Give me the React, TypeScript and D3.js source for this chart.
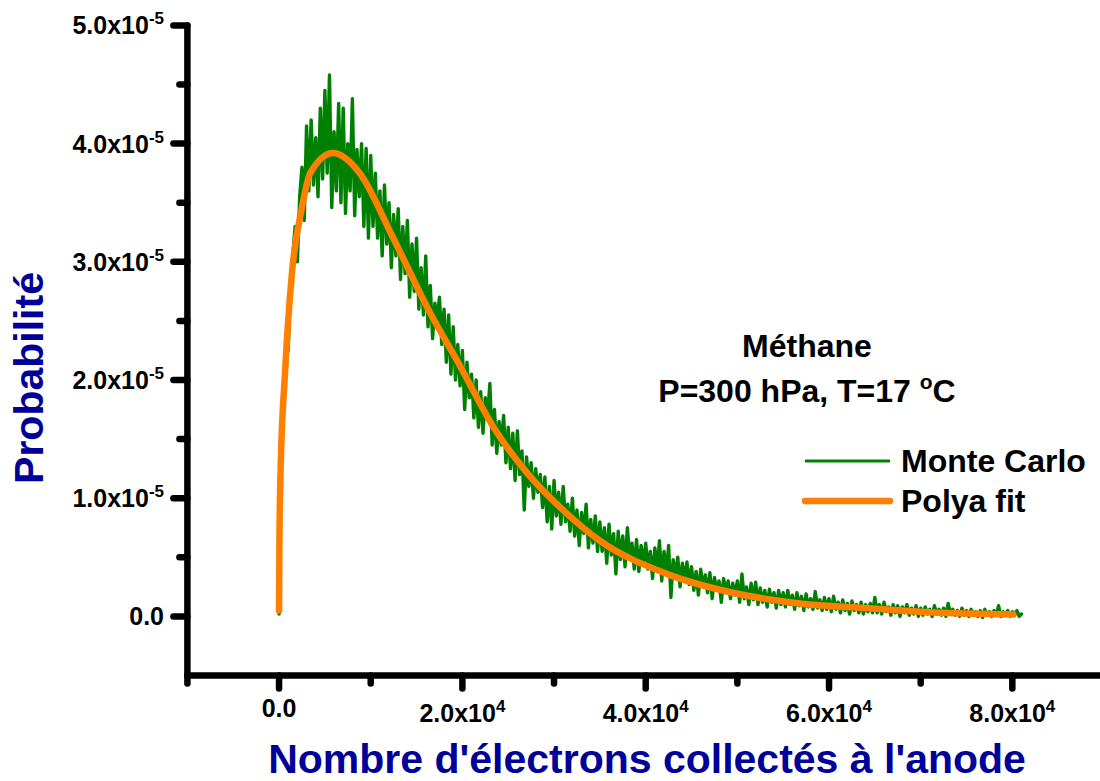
import React from 'react';
import * as d3 from 'd3';

// Monte Carlo histogram, one value every BIN_WIDTH electrons starting at 0 (units of 1e-5)
const BIN_WIDTH = 250;
const monteCarloProb = [
  0.02, 1.3, 1.95, 2.3, 2.25, 2.8, 3.05, 3.3, 3.0, 3.55, 3.8, 3.35, 4.15, 3.6, 4.2, 3.65, 4.05, 3.55, 4.3, 3.7,
  4.45, 3.75, 4.58, 3.46, 4.1, 3.6, 4.34, 3.5, 4.3, 3.41, 4.0, 3.6, 4.38, 3.39, 3.95, 3.55, 4.0, 3.3, 3.96, 3.2,
  3.9, 3.3, 3.75, 3.2, 3.6, 3.05, 3.65, 3.15, 3.5, 2.95, 3.4, 3.05, 3.45, 2.85, 3.3, 2.9, 3.35, 2.7, 3.15, 2.75,
  3.2, 2.6, 2.95, 2.55, 3.05, 2.45, 2.8, 2.35, 2.65, 2.5, 2.7, 2.3, 2.6, 2.15, 2.55, 2.05, 2.45, 2.0, 2.3, 1.95,
  2.25, 1.75, 2.15, 1.85, 2.05, 1.68, 2.0, 1.6, 1.9, 1.55, 1.85, 1.7, 1.97, 1.45, 1.75, 1.38, 1.65, 1.45, 1.7, 1.3,
  1.6, 1.25, 1.55, 1.15, 1.57, 1.2, 1.4, 0.9, 1.35, 1.1, 1.3, 1.0, 1.25, 1.05, 1.2, 0.92, 1.18, 0.8, 1.1, 0.74,
  1.15, 0.85, 1.05, 0.78, 1.1, 0.8, 0.95, 0.72, 1.0, 0.68, 0.9, 0.6, 0.88, 0.7, 0.95, 0.58, 0.82, 0.62, 0.85, 0.55,
  0.8, 0.55, 0.75, 0.45, 0.78, 0.52, 0.7, 0.36, 0.72, 0.48, 0.68, 0.42, 0.75, 0.5, 0.62, 0.4, 0.65, 0.38, 0.6, 0.44,
  0.62, 0.4, 0.55, 0.32, 0.58, 0.38, 0.64, 0.3, 0.55, 0.36, 0.6, 0.16, 0.48, 0.34, 0.5, 0.25, 0.45, 0.3, 0.46, 0.27,
  0.42, 0.22, 0.38, 0.18, 0.4, 0.25, 0.35, 0.2, 0.37, 0.15, 0.33, 0.22, 0.3, 0.12, 0.32, 0.2, 0.3, 0.15, 0.28, 0.18,
  0.3, 0.12, 0.36, 0.15, 0.25, 0.1, 0.28, 0.14, 0.29, 0.1, 0.24, 0.12, 0.22, 0.08, 0.23, 0.12, 0.2, 0.07, 0.22, 0.1,
  0.2, 0.08, 0.22, 0.1, 0.18, 0.06, 0.2, 0.09, 0.17, 0.05, 0.19, 0.08, 0.15, 0.06, 0.21, 0.07, 0.14, 0.05, 0.16, 0.06,
  0.15, 0.04, 0.17, 0.06, 0.12, 0.03, 0.14, 0.05, 0.11, 0.02, 0.13, 0.05, 0.1, 0.03, 0.12, 0.02, 0.1, 0.04, 0.11, 0.03,
  0.16, 0.03, 0.1, 0.02, 0.12, 0.04, 0.08, 0.01, 0.1, 0.03, 0.09, 0.0, 0.08, 0.03, 0.1, 0.01, 0.07, 0.02, 0.09, 0.0,
  0.07, 0.01, 0.08, 0.02, 0.06, 0.0, 0.09, 0.02, 0.06, 0.01, 0.07, 0.0, 0.11, 0.02, 0.06, 0.01, 0.05, 0.0, 0.07, 0.01,
  0.05, 0.0, 0.06, 0.01, 0.04, 0.0, 0.05, -0.01, 0.06, 0.01, 0.04, 0.0, 0.05, 0.01, 0.09, 0.0, 0.04, 0.01, 0.05, 0.0,
  0.04, 0.01, 0.05, 0.0, 0.02,
];

// Polya fit
const polyaN = [0, 40, 160, 650, 1400, 2500, 3400, 5900, 8800, 12400, 16200, 19800, 23400, 27100, 30700, 35000, 42300, 49500, 56800, 64200, 71400, 80100];
const polyaProb = [0.05, 0.65, 1.21, 2.06, 2.9, 3.46, 3.75, 3.92, 3.75, 3.21, 2.61, 2.11, 1.6, 1.21, 0.92, 0.64, 0.36, 0.2, 0.11, 0.07, 0.034, 0.017];

const xMajor = [0, 20000, 40000, 60000, 80000];
const xMajorLabels = [['0.0', ''], ['2.0x10', '4'], ['4.0x10', '4'], ['6.0x10', '4'], ['8.0x10', '4']];
const xMinor = [-10000, 10000, 30000, 50000, 70000];
const yMajor = [0, 1, 2, 3, 4, 5];
const yMajorLabels = [['0.0', ''], ['1.0x10', '-5'], ['2.0x10', '-5'], ['3.0x10', '-5'], ['4.0x10', '-5'], ['5.0x10', '-5']];
const yMinor = [0.5, 1.5, 2.5, 3.5, 4.5];

const FONT = '"Liberation Sans", Arial, Helvetica, sans-serif';
const TITLE_BLUE = '#000099';
const AXIS_W = 6.5;

export default function App() {
  const x = d3.scaleLinear().domain([-10000, 90000]).range([187.4, 1104]);
  const y = d3.scaleLinear().domain([-0.5, 5]).range([675.5, 25.4]);

  const mcLine = d3.line<number>()
    .x((_, i) => x(i * BIN_WIDTH))
    .y(d => y(d))(monteCarloProb);

  const fitLine = d3.line<number>()
    .x((_, i) => x(polyaN[i]))
    .y(d => y(d))
    .curve(d3.curveMonotoneX)(polyaProb);

  const axisY = y(-0.5);
  const axisX = x(-10000);

  return (
    <svg width={1100} height={781} style={{ position: 'absolute', left: 0, top: 0, background: '#fff' }} fontFamily={FONT} fontWeight="bold">
      {/* data */}
      <path d={mcLine || ''} fill="none" stroke="#008000" strokeWidth={3.4} strokeLinejoin="round" strokeLinecap="round" />
      <path d={fitLine || ''} fill="none" stroke="#ff8000" strokeWidth={6.5} strokeLinecap="round" strokeLinejoin="round" />

      {/* axes */}
      <g stroke="#000" strokeLinecap="round" strokeWidth={AXIS_W}>
        <line x1={axisX} x2={axisX} y1={y(5)} y2={axisY} />
        <line x1={axisX} x2={1104} y1={axisY} y2={axisY} />
        {xMajor.map(v => <line key={'xM' + v} x1={x(v)} x2={x(v)} y1={axisY} y2={axisY + 13} />)}
        {xMinor.map(v => <line key={'xm' + v} x1={x(v)} x2={x(v)} y1={axisY} y2={axisY + 8} />)}
        {yMajor.map(v => <line key={'yM' + v} x1={axisX} x2={axisX - 14} y1={y(v)} y2={y(v)} />)}
        {yMinor.map(v => <line key={'ym' + v} x1={axisX} x2={axisX - 8} y1={y(v)} y2={y(v)} />)}
      </g>

      {/* tick labels */}
      <g fontSize={25} fill="#000">
        {xMajor.map((v, i) => (
          <text key={'xl' + v} x={x(v)} y={i === 0 ? 717 : 722} textAnchor="middle">
            {xMajorLabels[i][0]}
            {xMajorLabels[i][1] && <tspan dy={-10} fontSize={17}>{xMajorLabels[i][1]}</tspan>}
          </text>
        ))}
        {yMajor.map((v, i) => (
          <text key={'yl' + v} x={164} y={y(v) + 9} textAnchor="end">
            {yMajorLabels[i][0]}
            {yMajorLabels[i][1] && <tspan dy={-10} fontSize={17}>{yMajorLabels[i][1]}</tspan>}
          </text>
        ))}
      </g>

      {/* axis titles */}
      <text x={647} y={773} textAnchor="middle" fontSize={41} fill={TITLE_BLUE}>Nombre d'électrons collectés à l'anode</text>
      <text transform="translate(43,378) rotate(-90)" textAnchor="middle" fontSize={41} fill={TITLE_BLUE}>Probabilité</text>

      {/* annotation */}
      <g fontSize={32} fill="#000">
        <text x={807} y={357} textAnchor="middle">Méthane</text>
        <text x={807} y={402} textAnchor="middle">
          P=300 hPa, T=17 <tspan dy={-13} fontSize={21}>o</tspan><tspan dy={13}>C</tspan>
        </text>
      </g>

      {/* legend */}
      <line x1={805} x2={890} y1={461} y2={461} stroke="#008000" strokeWidth={3} />
      <line x1={805} x2={890} y1={501} y2={501} stroke="#ff8000" strokeWidth={6.5} strokeLinecap="round" />
      <text x={901} y={472} fontSize={32} fill="#000">Monte Carlo</text>
      <text x={901} y={512} fontSize={32} fill="#000">Polya fit</text>
    </svg>
  );
}
